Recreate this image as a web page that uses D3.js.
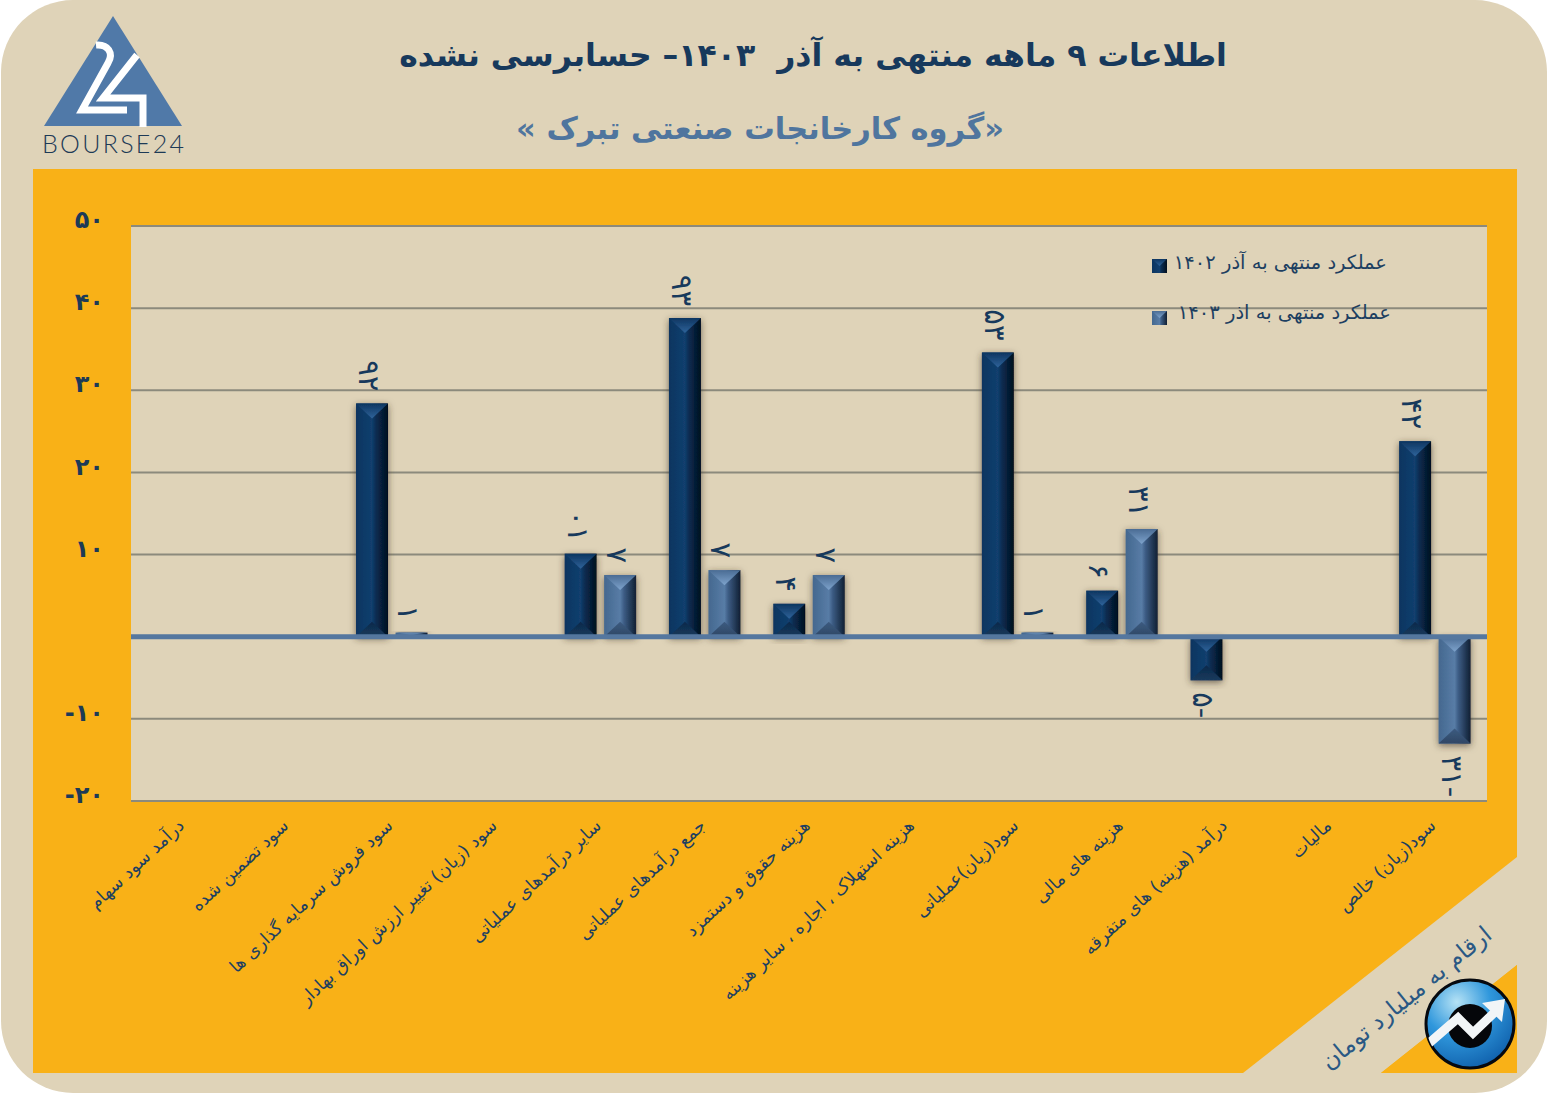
<!DOCTYPE html>
<html>
<head>
<meta charset="utf-8">
<style>
html, body { margin: 0; padding: 0; background: #fff; }
svg { display: block; }
text { font-family: "DejaVu Sans", sans-serif; }
.grid line { stroke: #8c8a7c; stroke-width: 2px; }
.axis--y path, .axis--x path, .axis--x line, .axis--y line { display: none; }
.axis--y text { font-size: 24px; font-weight: bold; fill: #1d3a56; direction: ltr; }
.axis--x text { font-size: 17.6px; fill: #1d3f61; direction: rtl; }
.value { font-size: 29px; fill: #17395c; direction: rtl; unicode-bidi: bidi-override; }
.legend-label { font-size: 19.5px; fill: #1d3f61; direction: rtl; }
</style>
</head>
<body>
<svg width="1547" height="1102"></svg>
<script src="https://d3js.org/d3.v7.min.js"></script>
<script>

var categories = [
  "درآمد سود سهام",
  "سود تضمین شده",
  "سود فروش سرمایه گذاری ها",
  "سود (زیان) تغییر ارزش اوراق بهادار",
  "سایر درآمدهای عملیاتی",
  "جمع درآمدهای عملیاتی",
  "هزینه حقوق و دستمزد",
  "هزینه استهلاک ، اجاره ، سایر هزینه",
  "سود(زیان)عملیاتی",
  "هزینه های مالی",
  "درآمد (هزینه) های متفرقه",
  "مالیات",
  "سود(زیان) خالص"
];

var seriesNames = ["عملکرد منتهی به آذر ۱۴۰۲", "عملکرد منتهی به اذر ۱۴۰۳"];

// bar heights
var values1402 = [0, 0, 28.4, 0, 10.1, 38.8, 4, 0, 34.6, 5.6, -5.3, 0, 23.8];
var values1403 = [0, 0, 0.5, 0, 7.5, 8.1, 7.5, 0, 0.5, 13.1, 0, 0, -13];

// printed labels are rounded and not always equal to the bar height
var labels1402 = ["", "", "۲۹", "", "۱۰", "۳۹", "۴", "", "۳۵", "۶", "-۵", "", "۲۴"];
var labels1403 = ["", "", "۱", "", "۷", "۷", "۷", "", "۱", "۱۳", "", "", "-۱۳"];

var yTicks = [-20, -10, 10, 20, 30, 40, 50];
var yTickLabels = {"-20": "-۲۰", "-10": "-۱۰", "10": "۱۰", "20": "۲۰", "30": "۳۰", "40": "۴۰", "50": "۵۰"};

var svg = d3.select("svg"),
    defs = svg.append("defs");

var x = d3.scaleBand().domain(d3.range(categories.length)).range([131, 1487]),
    x1 = d3.scaleBand().domain([0, 1]).range([0, x.bandwidth()]).paddingInner(0.19).paddingOuter(0.415),
    y = d3.scaleLinear().domain([-20, 50]).range([801, 226]);

// gradients for the bevelled bars
var palette = [
  {side: ["#0c3560", "#123f6e", "#0a2d52", "#020f1e"], top: ["#0d3560", "#2f639a"], bottom: ["#08294b", "#1a3a5c"]},
  {side: ["#44688f", "#587ca6", "#3c5c84", "#101f33"], top: ["#4a6c94", "#7ea3cc"], bottom: ["#3c5b80", "#2f4765"]}
];

palette.forEach(function(p, i) {
  var side = defs.append("linearGradient").attr("id", "side" + i);
  [0, 0.5, 0.62, 1].forEach(function(o, k) {
    side.append("stop").attr("offset", o).attr("stop-color", p.side[k]);
  });
  var top = defs.append("linearGradient").attr("id", "top" + i).attr("x2", 0).attr("y2", 1);
  top.append("stop").attr("offset", 0).attr("stop-color", p.top[0]);
  top.append("stop").attr("offset", 1).attr("stop-color", p.top[1]);
  var bottom = defs.append("linearGradient").attr("id", "bottom" + i).attr("x2", 0).attr("y2", 1);
  bottom.append("stop").attr("offset", 0).attr("stop-color", p.bottom[0]);
  bottom.append("stop").attr("offset", 1).attr("stop-color", p.bottom[1]);
});

var shadow = defs.append("filter").attr("id", "barShadow")
    .attr("x", "-40%").attr("y", "-20%").attr("width", "180%").attr("height", "140%");
shadow.append("feDropShadow").attr("dx", 0).attr("dy", 2).attr("stdDeviation", 3.5)
    .attr("flood-color", "#3a3320").attr("flood-opacity", 0.65);

var glow = defs.append("radialGradient").attr("id", "badge")
    .attr("cx", "35%").attr("cy", "25%").attr("r", "85%");
glow.append("stop").attr("offset", 0).attr("stop-color", "#b5e2f5");
glow.append("stop").attr("offset", 0.45).attr("stop-color", "#2f97dc");
glow.append("stop").attr("offset", 1).attr("stop-color", "#0c5aa6");

// page panels
svg.append("rect").attr("x", 1).attr("y", 0).attr("width", 1546).attr("height", 1093)
    .attr("rx", 72).attr("fill", "#dfd3b8");
svg.append("rect").attr("x", 33).attr("y", 169).attr("width", 1484).attr("height", 904).attr("fill", "#f9b117");
svg.append("path").attr("d", "M1517,857L1517,965L1381,1073L1243,1073Z").attr("fill", "#dfd3b8");
svg.append("rect").attr("x", 131).attr("y", 226).attr("width", 1356).attr("height", 575).attr("fill", "#dfd3b8");

// logo top left
var logo = svg.append("g");
logo.append("path").attr("d", "M113,16L182,126L44,126Z").attr("fill", "#5079a8");
logo.append("path").attr("d", "M96,45C108,44 114,53 108,63L82,110L127,110")
    .attr("fill", "none").attr("stroke", "#fff").attr("stroke-width", 7);
logo.append("path").attr("d", "M137,55L103,98L143,98L143,127")
    .attr("fill", "none").attr("stroke", "#fff").attr("stroke-width", 7);
logo.append("text").attr("x", 42).attr("y", 153).attr("textLength", 142)
    .style("font-family", "Lato").style("font-size", "25px").style("font-weight", 300).attr("fill", "#1d3a56").text("BOURSE24");

// titles
svg.append("text").attr("x", 813).attr("y", 66).attr("text-anchor", "middle")
    .style("font-size", "31.5px").style("font-weight", "bold").style("direction", "rtl").style("white-space", "pre").attr("fill", "#17395c")
    .text("اطلاعات ۹ ماهه منتهی به آذر  ۱۴۰۳– حسابرسی نشده");
svg.append("text").attr("x", 760).attr("y", 139).attr("text-anchor", "middle")
    .style("font-size", "30.5px").style("font-weight", "bold").style("direction", "rtl").attr("fill", "#4f759e")
    .text("«گروه کارخانجات صنعتی تبرک »");

// grid
svg.append("g").attr("class", "grid")
  .selectAll("line")
  .data(yTicks)
  .enter().append("line")
    .attr("x1", 131).attr("x2", 1487)
    .attr("y1", function(d) { return y(d); })
    .attr("y2", function(d) { return y(d); });

// axes
svg.append("g")
    .attr("class", "axis axis--y")
    .attr("transform", "translate(104,-6)")
    .call(d3.axisLeft(y).tickValues(yTicks).tickSize(0).tickPadding(0)
      .tickFormat(function(d) { return yTickLabels[d]; }));

svg.append("g")
    .attr("class", "axis axis--x")
    .attr("transform", "translate(0,801)")
    .call(d3.axisBottom(x).tickSize(0).tickFormat(function(i) { return categories[i]; }))
  .selectAll("text")
    .attr("x", 0).attr("y", 0).attr("dy", 0)
    .attr("text-anchor", "start")
    .attr("transform", "translate(2,26) rotate(-43)");

// bars
var rows = [];
categories.forEach(function(c, i) {
  rows.push({cat: i, s: 0, value: values1402[i], label: labels1402[i]});
  rows.push({cat: i, s: 1, value: values1403[i], label: labels1403[i]});
});

var bar = svg.selectAll(".bar")
  .data(rows.filter(function(d) { return d.value !== 0; }))
  .enter().append("g")
    .attr("class", "bar")
    .attr("filter", "url(#barShadow)");

function barBox(d) {
  var x0 = x(d.cat) + x1(d.s), w = x1.bandwidth(),
      y0 = Math.min(y(0), y(d.value)), y1 = Math.max(y(0), y(d.value));
  return {x0: x0, x1: x0 + w, w: w, y0: y0, y1: y1, cap: Math.min(15, (y1 - y0) / 2)};
}

bar.append("rect")
    .attr("x", function(d) { return barBox(d).x0; })
    .attr("y", function(d) { return barBox(d).y0; })
    .attr("width", function(d) { return barBox(d).w; })
    .attr("height", function(d) { return barBox(d).y1 - barBox(d).y0; })
    .attr("fill", function(d) { return "url(#side" + d.s + ")"; });

bar.append("path")
    .attr("d", function(d) {
      var b = barBox(d);
      return "M" + b.x0 + "," + b.y0 + "L" + b.x1 + "," + b.y0 + "L" + (b.x0 + b.w / 2) + "," + (b.y0 + b.cap) + "Z";
    })
    .attr("fill", function(d) { return "url(#top" + d.s + ")"; });

bar.append("path")
    .attr("d", function(d) {
      var b = barBox(d);
      return "M" + b.x0 + "," + b.y1 + "L" + b.x1 + "," + b.y1 + "L" + (b.x0 + b.w / 2) + "," + (b.y1 - b.cap) + "Z";
    })
    .attr("fill", function(d) { return "url(#bottom" + d.s + ")"; });

// value labels stand on their end, read top to bottom
svg.selectAll(".value")
  .data(rows.filter(function(d) { return d.label !== ""; }))
  .enter().append("text")
    .attr("class", "value")
    .attr("text-anchor", function(d) { return d.value < 0 ? "end" : "start"; })
    .attr("dy", "0.45em")
    .attr("transform", function(d) {
      var px = x(d.cat) + x1(d.s) + x1.bandwidth() / 2,
          py = y(d.value) + (d.value < 0 ? 12 : -12);
      return "translate(" + px + "," + py + ") rotate(90)";
    })
    .text(function(d) { return d.label; });

// zero line on top of the bars
svg.append("line")
    .attr("x1", 131).attr("x2", 1487)
    .attr("y1", y(0)).attr("y2", y(0))
    .attr("stroke", "#55779f").attr("stroke-width", 5);

// legend
var legend = svg.selectAll(".legend")
  .data(seriesNames)
  .enter().append("g")
    .attr("class", "legend")
    .attr("transform", function(d, i) { return "translate(1152," + (259 + i * 52) + ")"; });

legend.append("rect").attr("width", 15).attr("height", 14)
    .attr("fill", function(d, i) { return "url(#side" + i + ")"; });
legend.append("path").attr("d", "M0,0L15,0L7.5,7Z")
    .attr("fill", function(d, i) { return "url(#top" + i + ")"; });
legend.append("text")
    .attr("class", "legend-label")
    .attr("x", function(d, i) { return i ? 239 : 235; })
    .attr("y", function(d, i) { return i ? 1 : 3; })
    .attr("dy", "0.35em")
    .attr("text-anchor", "start")
    .text(function(d) { return d; });

// corner note and badge
svg.append("text")
    .attr("transform", "translate(1411,1004) rotate(-39)")
    .attr("text-anchor", "middle")
    .style("font-size", "23.5px").style("direction", "rtl").attr("fill", "#2a5884")
    .text("ارقام به میلیارد تومان");

svg.append("path").attr("d", "M1517,965L1517,1073L1381,1073Z").attr("fill", "#f9b117");

var badge = svg.append("g");
defs.append("clipPath").attr("id", "badgeClip").append("circle").attr("cx", 1470).attr("cy", 1024).attr("r", 44);
badge.append("circle").attr("cx", 1470).attr("cy", 1024).attr("r", 44)
    .attr("fill", "url(#badge)").attr("stroke", "#06090f").attr("stroke-width", 3);
badge.append("circle").attr("cx", 1470).attr("cy", 1026).attr("r", 22).attr("fill", "#05060a");
badge.append("path").attr("d", "M1428,1044L1458,1018L1473,1033L1497,1010")
    .attr("fill", "none").attr("stroke", "#f2f5f7").attr("stroke-width", 9).attr("clip-path", "url(#badgeClip)");
badge.append("path").attr("d", "M1505,999L1482,1003L1502,1022Z").attr("fill", "#f2f5f7");

</script>
</body>
</html>
